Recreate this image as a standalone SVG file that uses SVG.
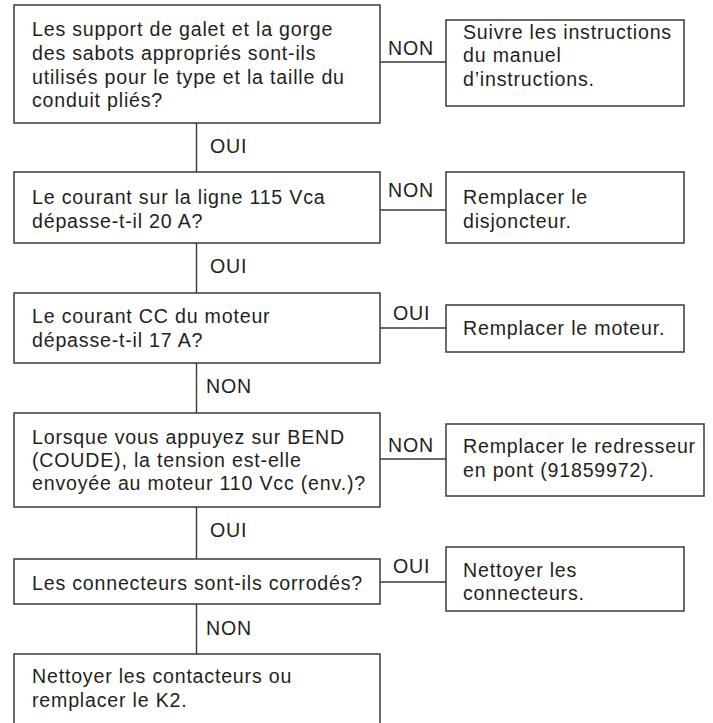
<svg xmlns="http://www.w3.org/2000/svg" width="713" height="723" viewBox="0 0 713 723">
<style>
.box{fill:#fff;stroke:#3a3a3a;stroke-width:1.5}
.ln{stroke:#3a3a3a;stroke-width:1.4;fill:none}
text{font-family:"Liberation Sans",Arial,Helvetica,sans-serif;font-size:19.6px;letter-spacing:0.8px;fill:#231f20}
</style>
<rect width="713" height="723" fill="#fff"/>
<g id="connectors">
<line class="ln" x1="196.5" y1="123" x2="196.5" y2="172"/>
<line class="ln" x1="196.5" y1="243" x2="196.5" y2="293"/>
<line class="ln" x1="196.5" y1="363" x2="196.5" y2="413"/>
<line class="ln" x1="196.5" y1="507" x2="196.5" y2="559"/>
<line class="ln" x1="196.5" y1="604" x2="196.5" y2="654"/>
<line class="ln" x1="380" y1="62" x2="446" y2="62"/>
<line class="ln" x1="380" y1="210" x2="446" y2="210"/>
<line class="ln" x1="380" y1="328" x2="446" y2="328"/>
<line class="ln" x1="380" y1="459" x2="446" y2="459"/>
<line class="ln" x1="380" y1="582" x2="446" y2="582"/>
<text x="210" y="153">OUI</text>
<text x="210" y="273">OUI</text>
<text x="206" y="393">NON</text>
<text x="210" y="537">OUI</text>
<text x="206" y="635">NON</text>
<text x="388" y="55">NON</text>
<text x="388" y="197">NON</text>
<text x="393" y="320">OUI</text>
<text x="388" y="452">NON</text>
<text x="393" y="573">OUI</text>
</g>
<g id="q1">
<rect class="box" x="14" y="5" width="366" height="118"/>
<text x="32" y="36">Les support de galet et la gorge</text>
<text x="32" y="60">des sabots appropriés sont-ils</text>
<text x="32" y="83.5">utilisés pour le type et la taille du</text>
<text x="32" y="107">conduit pliés?</text>
</g>
<g id="a1">
<rect class="box" x="446" y="20" width="238" height="86"/>
<text x="463" y="38.5">Suivre les instructions</text>
<text x="463" y="62">du manuel</text>
<text x="463" y="86">d’instructions.</text>
</g>
<g id="q2">
<rect class="box" x="14" y="172" width="366" height="71"/>
<text x="32" y="204">Le courant sur la ligne 115 Vca</text>
<text x="32" y="228">dépasse-t-il 20 A?</text>
</g>
<g id="a2">
<rect class="box" x="446" y="172" width="238" height="71"/>
<text x="463" y="204">Remplacer le</text>
<text x="463" y="228">disjoncteur.</text>
</g>
<g id="q3">
<rect class="box" x="14" y="293" width="366" height="70"/>
<text x="32" y="323">Le courant CC du moteur</text>
<text x="32" y="347">dépasse-t-il 17 A?</text>
</g>
<g id="a3">
<rect class="box" x="446" y="305" width="238" height="47"/>
<text x="463" y="335">Remplacer le moteur.</text>
</g>
<g id="q4">
<rect class="box" x="14" y="413" width="366" height="94"/>
<text x="32" y="444">Lorsque vous appuyez sur BEND</text>
<text x="32" y="467">(COUDE), la tension est-elle</text>
<text x="32" y="490">envoyée au moteur 110 Vcc (env.)?</text>
</g>
<g id="a4">
<rect class="box" x="446" y="424" width="258" height="72"/>
<text x="463" y="453">Remplacer le redresseur</text>
<text x="463" y="477">en pont (91859972).</text>
</g>
<g id="q5">
<rect class="box" x="14" y="559" width="366" height="45"/>
<text x="32" y="590">Les connecteurs sont-ils corrodés?</text>
</g>
<g id="a5">
<rect class="box" x="446" y="547" width="238" height="64"/>
<text x="463" y="577">Nettoyer les</text>
<text x="463" y="600">connecteurs.</text>
</g>
<g id="a6">
<rect class="box" x="14" y="654" width="366" height="80"/>
<text x="32" y="683">Nettoyer les contacteurs ou</text>
<text x="32" y="707">remplacer le K2.</text>
</g>
</svg>
